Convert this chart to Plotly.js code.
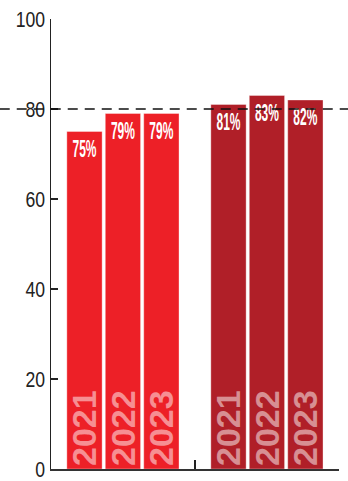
<!DOCTYPE html>
<html><head><meta charset="utf-8">
<script src="https://cdn.plot.ly/plotly-3.0.1.min.js"></script>
<style>html,body{margin:0;padding:0;background:#fff}#c{width:348px;height:481px}</style>
</head><body><div id="c"></div>
<script>
const groups = [0, 1];
const years = ["2021", "2022", "2023"];
const values = {
  "2021": [75, 81],
  "2022": [79, 83],
  "2023": [79, 82]
};
const groupColors = ["#ED2027", "#B01F28"];
const refLine = 80;
const yTicks = [0, 20, 40, 60, 80, 100];

const traces = [];
years.forEach((yr, i) => {
  const off = -0.39 + i * 0.267;
  traces.push({
    type: "bar", x: groups, y: values[yr], offset: off, width: 0.245,
    marker: {color: groupColors, line: {color: "rgba(255,255,255,0.35)", width: 1}},
    text: groups.map(() => yr), textposition: "inside", insidetextanchor: "start",
    textangle: -90, constraintext: "none", cliponaxis: false,
    textfont: {family: "Liberation Sans, Arial, sans-serif", size: 34, color: "rgba(255,255,255,0.5)", weight: "bold"},
    hoverinfo: "skip", showlegend: false
  });
  traces.push({
    type: "bar", x: groups, y: values[yr], offset: off, width: 0.245,
    marker: {color: "rgba(0,0,0,0)"},
    text: values[yr].map(v => v + "%"), textposition: "inside", insidetextanchor: "end",
    textangle: 0, constraintext: "none",
    textfont: {family: "Liberation Sans, Arial, sans-serif", size: 24, color: "#ffffff", weight: "bold"},
    hoverinfo: "skip", showlegend: false
  });
});

const layout = {
  width: 348, height: 481,
  margin: {l: 51, r: 9, t: 19, b: 12},
  barmode: "overlay",
  paper_bgcolor: "#fff", plot_bgcolor: "#fff",
  font: {family: "Liberation Sans, Arial, sans-serif", color: "#222"},
  xaxis: {range: [-0.5, 1.5], showgrid: false, zeroline: false, showline: true,
    linecolor: "#333", linewidth: 1.5, tickvals: [0.5, 1.499], ticks: "inside",
    ticklen: 9, tickcolor: "#222", tickwidth: 1.6, showticklabels: false, fixedrange: true},
  yaxis: {range: [0, 100], showgrid: false, zeroline: false, showline: true,
    linecolor: "#222", linewidth: 1.5, tickvals: yTicks, ticks: "inside",
    ticklen: 7, tickcolor: "#222", tickwidth: 1.5, ticklabeloverflow: "allow",
    tickfont: {size: 22, color: "#222"}, ticklabelstandoff: 0, fixedrange: true},
  shapes: [{type: "line", xref: "paper", yref: "y", x0: -0.178, x1: 1.035, y0: refLine, y1: refLine,
    layer: "above", line: {color: "#111", width: 1.3, dash: "10px,7px"}}]
};

function squeeze(el, s, anchor) {
  const b = el.getBBox();
  const px = anchor === "end" ? b.x + b.width : b.x + b.width / 2;
  const T = el.getAttribute("transform") || "";
  el.setAttribute("transform", T + " translate(" + px + ",0) scale(" + s + ",1) translate(" + (-px) + ",0)");
}

Plotly.newPlot("c", traces, layout, {displayModeBar: false, staticPlot: true}).then(gd => {
  gd.querySelectorAll("text.bartext").forEach(t => {
    if (/%$/.test(t.textContent)) squeeze(t, 0.5, "middle");
  });
  gd.querySelectorAll(".ytick text").forEach(t => squeeze(t, 0.8, "end"));
});
</script></body></html>
